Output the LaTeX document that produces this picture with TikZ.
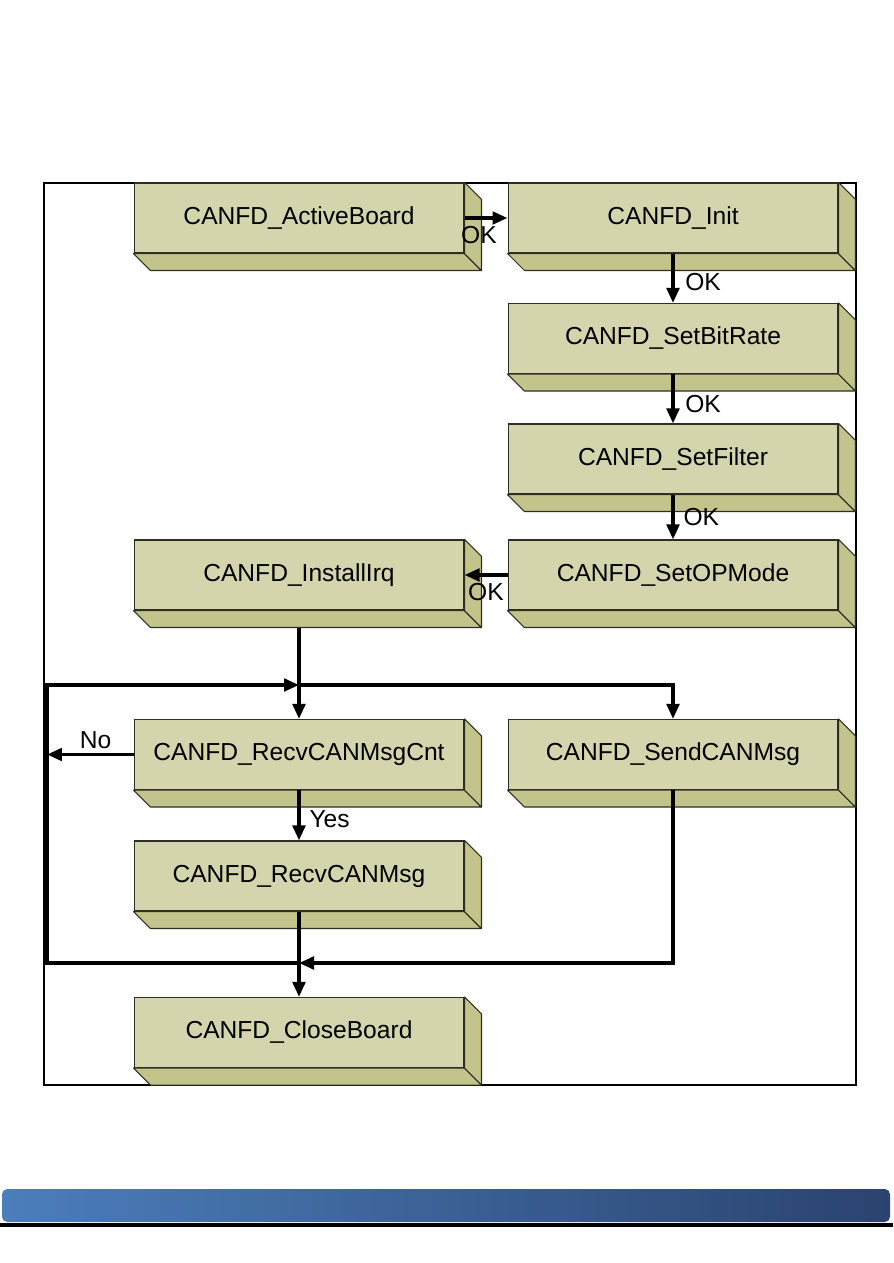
\documentclass[tikz,border=0pt]{standalone}
\usepackage{fontspec}
\setmainfont{Liberation Sans}
\usetikzlibrary{arrows.meta}

\begin{document}
\begin{tikzpicture}[x=0.02cm,y=-0.02cm]
\definecolor{boxFront}{HTML}{D4D5AC}
\definecolor{boxSide}{HTML}{C3C48C}
\definecolor{boxEdge}{HTML}{2E2E22}
\definecolor{barLeft}{HTML}{4B7EBB}
\definecolor{barRight}{HTML}{2B436F}
\tikzset{
  procbox/.style={draw=boxEdge,fill=boxFront,line width=0.6pt,minimum width=6.6cm,minimum height=1.4cm,inner sep=0pt,font=\fontsize{14}{16}\selectfont},
  sideface/.style={draw=boxEdge,fill=boxSide,line width=0.6pt,line join=round},
  flow/.style={line width=2pt,-{Triangle[length=0.3cm,width=0.25cm]}},
  lab/.style={font=\fontsize{14}{16}\selectfont,inner sep=2pt}
}
\useasboundingbox (0,0) rectangle (893,1263);
\draw[line width=0.6pt] (44,183) rectangle (856,1085);
% boxes
\node[procbox] (active) at (299,218) {CANFD\_ActiveBoard};
\node[procbox] (init) at (673,218) {CANFD\_Init};
\node[procbox] (bitrate) at (673,338.5) {CANFD\_SetBitRate};
\node[procbox] (filter) at (673,459) {CANFD\_SetFilter};
\node[procbox] (opmode) at (673,575) {CANFD\_SetOPMode};
\node[procbox] (irq) at (299,575) {CANFD\_InstallIrq};
\node[procbox] (cnt) at (299,754.5) {CANFD\_RecvCANMsgCnt};
\node[procbox] (send) at (673,754.5) {CANFD\_SendCANMsg};
\node[procbox] (recv) at (299,876) {CANFD\_RecvCANMsg};
\node[procbox] (close) at (299,1032.5) {CANFD\_CloseBoard};
% extruded faces
\foreach \n in {active,init,bitrate,filter,opmode,irq,cnt,send,recv,close} {
  \draw[sideface] (\n.south west) -- (\n.south east) -- ([shift={(0.34cm,-0.34cm)}]\n.south east)
    -- ([shift={(0.34cm,-0.34cm)}]\n.south west) -- cycle;
  \draw[sideface] (\n.north east) -- ([shift={(0.34cm,-0.34cm)}]\n.north east)
    -- ([shift={(0.34cm,-0.34cm)}]\n.south east) -- (\n.south east) -- cycle;
}
% junctions
\coordinate (jtop) at (299,685);
\coordinate (jbot) at (299,963);
\coordinate (lefttop) at (47,685);
\coordinate (leftbot) at (47,963);
% connectors
\draw[flow] (active.east) -- (init.west) node[midway,below,lab,xshift=-4pt,yshift=-2pt] {OK};
\draw[flow] (init.south) -- (bitrate.north) node[midway,right,lab,xshift=4pt,yshift=-2pt] {OK};
\draw[flow] (bitrate.south) -- (filter.north) node[pos=0.6,right,lab,xshift=4pt] {OK};
\draw[flow] (filter.south) -- (opmode.north) node[midway,right,lab,xshift=3pt] {OK};
\draw[flow] (opmode.west) -- (irq.east) node[midway,below,lab,yshift=-2pt] {OK};
\draw[flow] ([yshift=-0.34cm]irq.south) -- (cnt.north);
\draw[flow] (jtop) -| (send.north);
\draw[flow] (jbot) -- (leftbot) -- (lefttop) -- (jtop);
\draw[flow] (cnt.west) -- (cnt.west -| lefttop) node[midway,above,lab,xshift=3pt] {No};
\draw[flow] (cnt.south) -- (recv.north) node[midway,right,lab,xshift=3pt,yshift=-2pt] {Yes};
\draw[flow] (recv.south) -- (close.north);
\draw[flow] (send.south) |- (jbot);
% footer bar
\shade[left color=barLeft,right color=barRight,rounded corners=3pt] (2,1189) rectangle (890,1222);
\fill[black] (0,1223) rectangle (893,1227);
\end{tikzpicture}
\end{document}
